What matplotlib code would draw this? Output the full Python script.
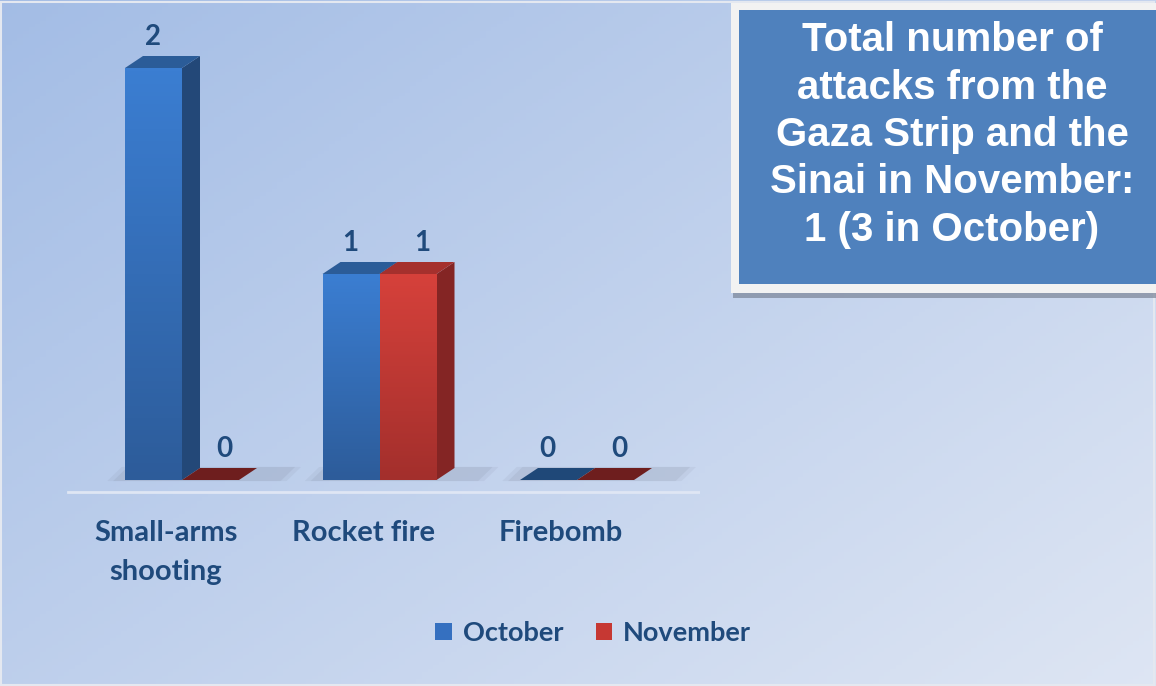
import numpy as np
import matplotlib
matplotlib.use("Agg")
import matplotlib.pyplot as plt
from matplotlib.patches import Polygon, Rectangle, Patch
from matplotlib.colors import LinearSegmentedColormap

categories = ["Small-arms\nshooting", "Rocket fire", "Firebomb"]
series_names = ["October", "November"]
october = [2, 1, 0]
november = [0, 1, 0]
title_text = "Total number of\nattacks from the\nGaza Strip and the\nSinai in November:\n1 (3 in October)"

W, H = 1156, 686
fig = plt.figure(figsize=(W / 100, H / 100), dpi=100)

# background gradient
bg = fig.add_axes([0, 0, 1, 1], zorder=-5)
yy, xx = np.mgrid[0:1:200j, 0:1:200j]
t = 0.55 * xx + 0.45 * yy
c0 = np.array([0.64, 0.74, 0.90])
c1 = np.array([0.87, 0.90, 0.955])
img = c0[None, None, :] * (1 - t[..., None]) + c1[None, None, :] * t[..., None]
bg.imshow(img, extent=[0, 1, 0, 1], aspect="auto", origin="upper")
bg.set_xlim(0, 1); bg.set_ylim(0, 1)
bg.axis("off")
bg.add_patch(Rectangle((0.001, 0.002), 0.997, 0.995, fill=False, ec="#e4e8f0", lw=1.5))

# main axes: px 60..700 horizontally, value 0 at y=480px, 206 px per unit
left_px, right_px = 60, 700
cat_px0, cat_step = 182, 197.5
xmin = (left_px - cat_px0) / cat_step
xmax = (right_px - cat_px0) / cat_step
ylo, yhi = -0.2, 2.2
bottom_px = 480 + (-ylo) * 206
top_px = 480 - yhi * 206
ax = fig.add_axes([left_px / W, (H - bottom_px) / H, (right_px - left_px) / W, (bottom_px - top_px) / H])
ax.set_xlim(xmin, xmax)
ax.set_ylim(ylo, yhi)
ax.axis("off")

bw = 57 / cat_step
dx = 18 / cat_step
dy = 12 / 206

label_col = "#1F4A7C"
styles = {
    "October": dict(front=("#3B7ED2", "#2D5C9A"), side="#234878", top="#2B5C98", flat="#1F4878", offset=-1),
    "November": dict(front=("#D6413B", "#A32F2C"), side="#842524", top="#A5302D", flat="#6E1E1E", offset=14),
}

x = np.arange(len(categories))

# floor shadows
for i in x:
    x0 = i - bw - 0.09
    x1 = i + bw + dx + 0.15
    for k, a in [(0, 0.07), (0.03, 0.09)]:
        ax.add_patch(Polygon([(x0 + k, -0.005), (x1 - k, -0.005), (x1 + dx * 0.8 - k, dy + 0.005), (x0 + dx * 0.8 + k, dy + 0.005)],
                             closed=True, fc="#5a6070", ec="none", alpha=a, zorder=1))

# floor line
ax.axhline(-12 / 206, xmin=8 / (right_px - left_px), xmax=1.0, color="#dfe6f4", lw=2, zorder=1)

for s, vals in zip(series_names, [october, november]):
    st = styles[s]
    xs = x - bw / 2 if s == "October" else x + bw / 2
    bars = ax.bar(xs, vals, width=bw, color=st["front"][0], zorder=3, linewidth=0)
    cmap = LinearSegmentedColormap.from_list(s, [st["front"][1], st["front"][0]])
    for b, v in zip(bars, vals):
        bx0 = b.get_x(); bx1 = bx0 + b.get_width()
        if v > 0:
            im = ax.imshow(np.linspace(0, 1, 100)[:, None], extent=[bx0, bx1, 0, v], origin="lower",
                           cmap=cmap, aspect="auto", zorder=3.5)
            im.set_clip_path(b)
            ax.add_patch(Polygon([(bx1, 0), (bx1 + dx, dy), (bx1 + dx, v + dy), (bx1, v)], closed=True,
                                 fc=st["side"], ec="none", zorder=2.5))
            ax.add_patch(Polygon([(bx0, v), (bx0 + dx, v + dy), (bx1 + dx, v + dy), (bx1, v)], closed=True,
                                 fc=st["top"], ec="none", zorder=2.6))
        else:
            ax.add_patch(Polygon([(bx0, 0), (bx0 + dx, dy), (bx1 + dx, dy), (bx1, 0)], closed=True,
                                 fc=st["flat"], ec="none", zorder=2.6))
        ax.annotate(f"{v}", xy=(b.get_x() + b.get_width() / 2, v), xytext=(st["offset"] * 0.72, 22),
                    textcoords="offset points", ha="center", va="center", fontsize=20,
                    fontweight="bold", color=label_col, family="Lato")
    ax.set_xlim(xmin, xmax); ax.set_ylim(ylo, yhi)

for i, c in zip(x, categories):
    ax.annotate(c, xy=(i, 0), xytext=(-11.5, -28.5), textcoords="offset points", ha="center", va="top",
                fontsize=21, fontweight="bold", color=label_col, family="Lato", linespacing=1.65)

handles = [Patch(facecolor="#3570C0", edgecolor="none"), Patch(facecolor="#C63833", edgecolor="none")]
fig.legend(handles, series_names, loc="center", bbox_to_anchor=(593 / W, 1 - 633 / H), ncol=2, frameon=False,
           handlelength=0.6, handleheight=0.6, handletextpad=0.4, columnspacing=1.2,
           prop=dict(family="Lato", weight="bold", size=19.5), labelcolor=label_col)

# title box
fig.patches.append(Rectangle((733 / W, (H - 298) / H), 1 - 733 / W, 290 / H, transform=fig.transFigure,
                             fc="#7a8496", ec="none", alpha=0.7, zorder=1))
fig.patches.append(Rectangle((731 / W, (H - 293) / H), 1 - 731 / W, 290 / H, transform=fig.transFigure,
                             fc="#f2f2f2", ec="none", zorder=2))
fig.patches.append(Rectangle((739 / W, (H - 284) / H), 1 - 739 / W, 274 / H, transform=fig.transFigure,
                             fc="#4F81BD", ec="none", zorder=3))
fig.text(952 / W, 1 - 135 / H, title_text, ha="center", va="center", color="white", fontsize=29,
         fontweight="bold", family="Liberation Sans", linespacing=1.31, zorder=4)

fig.savefig("out.png", dpi=100)
